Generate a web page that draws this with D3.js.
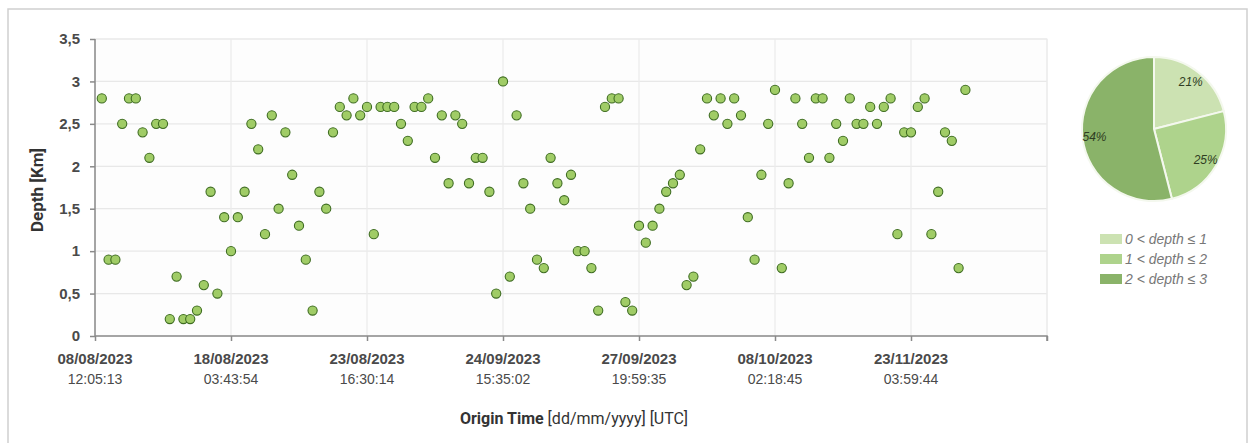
<!DOCTYPE html>
<html>
<head>
<meta charset="utf-8">
<script src="https://cdn.jsdelivr.net/npm/d3@7"></script>
<style>
  body { margin: 0; background: #fff; }
  svg { display: block; }
  .cond { font-family: 'Liberation Sans Narrow', 'Arial Narrow', 'Liberation Sans', Arial, sans-serif; }
</style>
</head>
<body>
<div class="depth-plot"></div>
<script>
// depth of each event in Km, in the order they appear on the x axis
const depths = [
  2.8, 0.9, 0.9, 2.5, 2.8, 2.8, 2.4, 2.1, 2.5, 2.5,
  0.2, 0.7, 0.2, 0.2, 0.3, 0.6, 1.7, 0.5, 1.4, 1.0,
  1.4, 1.7, 2.5, 2.2, 1.2, 2.6, 1.5, 2.4, 1.9, 1.3,
  0.9, 0.3, 1.7, 1.5, 2.4, 2.7, 2.6, 2.8, 2.6, 2.7,
  1.2, 2.7, 2.7, 2.7, 2.5, 2.3, 2.7, 2.7, 2.8, 2.1,
  2.6, 1.8, 2.6, 2.5, 1.8, 2.1, 2.1, 1.7, 0.5, 3.0,
  0.7, 2.6, 1.8, 1.5, 0.9, 0.8, 2.1, 1.8, 1.6, 1.9,
  1.0, 1.0, 0.8, 0.3, 2.7, 2.8, 2.8, 0.4, 0.3, 1.3,
  1.1, 1.3, 1.5, 1.7, 1.8, 1.9, 0.6, 0.7, 2.2, 2.8,
  2.6, 2.8, 2.5, 2.8, 2.6, 1.4, 0.9, 1.9, 2.5, 2.9,
  0.8, 1.8, 2.8, 2.5, 2.1, 2.8, 2.8, 2.1, 2.5, 2.3,
  2.8, 2.5, 2.5, 2.7, 2.5, 2.7, 2.8, 1.2, 2.4, 2.4,
  2.7, 2.8, 1.2, 1.7, 2.4, 2.3, 0.8, 2.9
];

// x tick labels (every 20 events)
const tickIndex = [0, 20, 40, 60, 80, 100, 120, 140];
const tickDates = ['08/08/2023', '18/08/2023', '23/08/2023', '24/09/2023', '27/09/2023', '08/10/2023', '23/11/2023', ''];
const tickTimes = ['12:05:13', '03:43:54', '16:30:14', '15:35:02', '19:59:35', '02:18:45', '03:59:44', ''];

const yTicks = [0, 0.5, 1, 1.5, 2, 2.5, 3, 3.5];

// pie of depth classes
const classes = ['0 < depth ≤ 1', '1 < depth ≤ 2', '2 < depth ≤ 3'];
const shares = [21, 25, 54];
const classColors = ['#cce2b2', '#aed38c', '#8ab369'];

const width = 1252;
const height = 443;

const svg = d3.select('.depth-plot')
  .append('svg')
  .attr('width', width)
  .attr('height', height);

// outer frame
svg.append('rect')
  .attr('x', 8).attr('y', 9)
  .attr('width', 1239).attr('height', 440)
  .attr('fill', 'none')
  .attr('stroke', '#cfcfcf')
  .attr('stroke-width', 1.5);

const x = d3.scaleLinear().domain([0, 140]).range([95, 1047]);
const y = d3.scaleLinear().domain([0, 3.5]).range([336, 39]);

// plot area border
svg.append('rect')
  .attr('x', x(0)).attr('y', y(3.5))
  .attr('width', x(140) - x(0)).attr('height', y(0) - y(3.5))
  .attr('fill', '#fdfdfd')
  .attr('stroke', '#ececec');

// grid
svg.append('g')
  .selectAll('line')
  .data(yTicks.slice(1))
  .enter()
  .append('line')
  .attr('x1', x(0)).attr('x2', x(140))
  .attr('y1', d => y(d)).attr('y2', d => y(d))
  .attr('stroke', '#e8e8e8')
  .attr('stroke-width', 1.2);

svg.append('g')
  .selectAll('line')
  .data(tickIndex.slice(1))
  .enter()
  .append('line')
  .attr('x1', d => x(d)).attr('x2', d => x(d))
  .attr('y1', y(0)).attr('y2', y(3.5))
  .attr('stroke', '#ebebeb')
  .attr('stroke-width', 1.2);

// axes
const yAxis = svg.append('g')
  .attr('transform', `translate(${x(0)},0)`)
  .call(d3.axisLeft(y).tickValues(yTicks).tickSize(5).tickPadding(10)
    .tickFormat(d => String(d).replace('.', ',')));

const xAxis = svg.append('g')
  .attr('transform', `translate(0,${y(0)})`)
  .call(d3.axisBottom(x).tickValues(tickIndex).tickSize(5).tickFormat(''));

[yAxis, xAxis].forEach(a => {
  a.select('.domain').attr('stroke', '#8a8a8a').attr('stroke-width', 1.5);
  a.selectAll('.tick line').attr('stroke', '#8a8a8a').attr('stroke-width', 1.5);
});
xAxis.select('.domain').attr('d', `M${x(0)},0H${x(140)}V5`);
yAxis.select('.domain').attr('d', `M0,${y(3.5)}V${y(0)}`);

yAxis.selectAll('.tick text')
  .attr('class', 'cond')
  .attr('font-size', 15)
  .attr('font-weight', 'bold')
  .attr('fill', '#4a4a4a');

const xLabels = svg.append('g').attr('class', 'cond');
xLabels.selectAll('text.date')
  .data(tickIndex.slice(0, 7))
  .enter()
  .append('text')
  .attr('class', 'date')
  .attr('x', d => x(d))
  .attr('y', 364)
  .attr('text-anchor', 'middle')
  .attr('font-size', 15)
  .attr('font-weight', 'bold')
  .attr('fill', '#4a4a4a')
  .text((d, i) => tickDates[i]);

xLabels.selectAll('text.time')
  .data(tickIndex.slice(0, 7))
  .enter()
  .append('text')
  .attr('class', 'time')
  .attr('x', d => x(d))
  .attr('y', 384)
  .attr('text-anchor', 'middle')
  .attr('font-size', 14)
  .attr('fill', '#4a4a4a')
  .text((d, i) => tickTimes[i]);

// axis titles
svg.append('text')
  .attr('transform', 'translate(43,190) rotate(-90)')
  .attr('text-anchor', 'middle')
  .attr('font-family', 'Roboto, sans-serif')
  .attr('font-size', 17)
  .attr('font-weight', 'bold')
  .attr('fill', '#333')
  .text('Depth [Km]');

const xt = svg.append('text')
  .attr('x', 574)
  .attr('y', 424)
  .attr('text-anchor', 'middle')
  .attr('font-family', 'Roboto, sans-serif')
  .attr('font-size', 16)
  .attr('fill', '#333');
xt.append('tspan').attr('font-weight', 'bold').text('Origin Time');
xt.append('tspan').text(' [dd/mm/yyyy] [UTC]');

// points
svg.append('g')
  .selectAll('circle')
  .data(depths)
  .enter()
  .append('circle')
  .attr('cx', (d, i) => x(i + 1))
  .attr('cy', d => y(d))
  .attr('r', 4.6)
  .attr('fill', '#a0cc66')
  .attr('stroke', '#3f6d22')
  .attr('stroke-width', 1.1);

// pie
const pieG = svg.append('g').attr('transform', 'translate(1154,129)');
const arcs = d3.pie().sort(null)(shares);
const arc = d3.arc().innerRadius(0).outerRadius(72);
const labelArc = d3.arc().innerRadius(60).outerRadius(60);

pieG.selectAll('path')
  .data(arcs)
  .enter()
  .append('path')
  .attr('d', arc)
  .attr('fill', (d, i) => classColors[i])
  .attr('stroke', '#f4f8ee')
  .attr('stroke-width', 2);

pieG.selectAll('text')
  .data(arcs)
  .enter()
  .append('text')
  .attr('transform', d => `translate(${labelArc.centroid(d)})`)
  .attr('text-anchor', 'middle')
  .attr('dy', '0.35em')
  .attr('class', 'cond')
  .attr('font-size', 12)
  .attr('font-style', 'italic')
  .attr('fill', '#2f3d22')
  .text(d => d.data + '%');

// legend
const legend = svg.append('g')
  .selectAll('g')
  .data(classes)
  .enter()
  .append('g')
  .attr('transform', (d, i) => `translate(1100,${239 + 20 * i})`);

legend.append('rect')
  .attr('x', 0).attr('y', -5)
  .attr('width', 22).attr('height', 10)
  .attr('fill', (d, i) => classColors[i]);

legend.append('text')
  .attr('x', 25)
  .attr('y', 5)
  .attr('class', 'cond')
  .attr('font-size', 14)
  .attr('font-style', 'italic')
  .attr('fill', '#777')
  .text(d => d);
</script>
</body>
</html>
